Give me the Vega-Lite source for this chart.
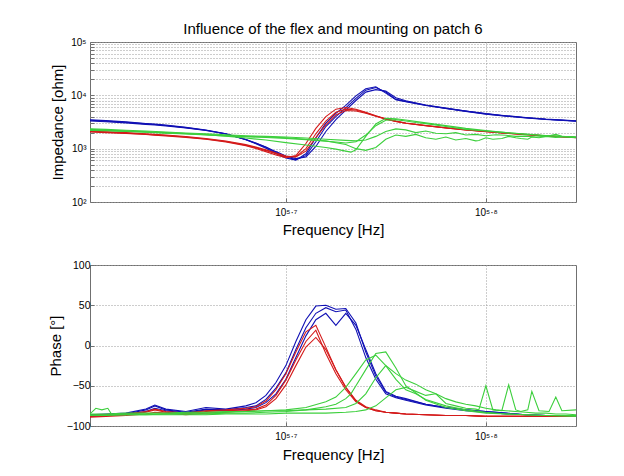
{
"$schema": "https://vega.github.io/schema/vega-lite/v6.json",
"background": "white",
"padding": {"left": 47, "top": 21, "right": 5, "bottom": 5},
"config": {
 "font": "Liberation Sans",
 "view": {"stroke": "#707070", "strokeWidth": 1},
 "axis": {"domain": false, "grid": true, "gridDash": [1, 2], "gridColor": "#9a9a9a", "gridWidth": 1, "tickColor": "#707070", "tickSize": -4, "labelFont": "Liberation Sans", "labelFontSize": 10.5, "labelColor": "#000", "titleFont": "Liberation Sans", "titleFontSize": 15, "titleFontWeight": "normal", "titleColor": "#000"}
},
"datasets": {"d": [
{"s":"a1","g":"a","f":400000,"z":3400,"p":-87},{"s":"a1","g":"a","f":407400,"z":3280,"p":-86},{"s":"a1","g":"a","f":416900,"z":3120,"p":-85},{"s":"a1","g":"a","f":426600,"z":2920,"p":-80},{"s":"a1","g":"a","f":431000,"z":2830,"p":-75},{"s":"a1","g":"a","f":436500,"z":2720,"p":-80},{"s":"a1","g":"a","f":446700,"z":2480,"p":-83},{"s":"a1","g":"a","f":457100,"z":2220,"p":-79},{"s":"a1","g":"a","f":467700,"z":1900,"p":-80},{"s":"a1","g":"a","f":478600,"z":1480,"p":-77},{"s":"a1","g":"a","f":484200,"z":1260,"p":-75},{"s":"a1","g":"a","f":489800,"z":1060,"p":-67},{"s":"a1","g":"a","f":495500,"z":850,"p":-53},{"s":"a1","g":"a","f":501200,"z":700,"p":-34},{"s":"a1","g":"a","f":507000,"z":625,"p":-5},{"s":"a1","g":"a","f":512900,"z":740,"p":22},{"s":"a1","g":"a","f":518800,"z":1350,"p":40},{"s":"a1","g":"a","f":524800,"z":2600,"p":47},{"s":"a1","g":"a","f":530900,"z":4000,"p":42},{"s":"a1","g":"a","f":537000,"z":5800,"p":44},{"s":"a1","g":"a","f":543300,"z":8800,"p":20},{"s":"a1","g":"a","f":549500,"z":12500,"p":-15},{"s":"a1","g":"a","f":555900,"z":14000,"p":-42},{"s":"a1","g":"a","f":562300,"z":11500,"p":-60},{"s":"a1","g":"a","f":568900,"z":8400,"p":-65},{"s":"a1","g":"a","f":575400,"z":7700,"p":-68},{"s":"a1","g":"a","f":588800,"z":6500,"p":-74},{"s":"a1","g":"a","f":602600,"z":5700,"p":-78},{"s":"a1","g":"a","f":616600,"z":5050,"p":-81},{"s":"a1","g":"a","f":631000,"z":4500,"p":-83},{"s":"a1","g":"a","f":645700,"z":4100,"p":-85},{"s":"a1","g":"a","f":660700,"z":3800,"p":-86},{"s":"a1","g":"a","f":676100,"z":3550,"p":-87},{"s":"a1","g":"a","f":700000,"z":3300,"p":-88},
{"s":"a2","g":"a","f":400000,"z":3300,"p":-88},{"s":"a2","g":"a","f":407400,"z":3200,"p":-87},{"s":"a2","g":"a","f":416900,"z":3050,"p":-86},{"s":"a2","g":"a","f":426600,"z":2860,"p":-82},{"s":"a2","g":"a","f":431000,"z":2780,"p":-78},{"s":"a2","g":"a","f":436500,"z":2670,"p":-81},{"s":"a2","g":"a","f":446700,"z":2440,"p":-84},{"s":"a2","g":"a","f":457100,"z":2190,"p":-80},{"s":"a2","g":"a","f":467700,"z":1880,"p":-81},{"s":"a2","g":"a","f":478600,"z":1480,"p":-79},{"s":"a2","g":"a","f":484200,"z":1270,"p":-77},{"s":"a2","g":"a","f":489800,"z":1080,"p":-71},{"s":"a2","g":"a","f":495500,"z":880,"p":-60},{"s":"a2","g":"a","f":501200,"z":730,"p":-42},{"s":"a2","g":"a","f":507000,"z":650,"p":-15},{"s":"a2","g":"a","f":512900,"z":700,"p":12},{"s":"a2","g":"a","f":518800,"z":1100,"p":32},{"s":"a2","g":"a","f":524800,"z":2100,"p":40},{"s":"a2","g":"a","f":530900,"z":3500,"p":25},{"s":"a2","g":"a","f":537000,"z":5300,"p":40},{"s":"a2","g":"a","f":543300,"z":8000,"p":25},{"s":"a2","g":"a","f":549500,"z":11500,"p":-5},{"s":"a2","g":"a","f":555900,"z":12800,"p":-35},{"s":"a2","g":"a","f":562300,"z":12000,"p":-57},{"s":"a2","g":"a","f":568900,"z":9000,"p":-63},{"s":"a2","g":"a","f":575400,"z":7900,"p":-66},{"s":"a2","g":"a","f":588800,"z":6600,"p":-73},{"s":"a2","g":"a","f":602600,"z":5750,"p":-77},{"s":"a2","g":"a","f":616600,"z":5100,"p":-80},{"s":"a2","g":"a","f":631000,"z":4550,"p":-82},{"s":"a2","g":"a","f":645700,"z":4150,"p":-84},{"s":"a2","g":"a","f":660700,"z":3850,"p":-86},{"s":"a2","g":"a","f":676100,"z":3580,"p":-87},{"s":"a2","g":"a","f":700000,"z":3320,"p":-88},
{"s":"a3","g":"a","f":400000,"z":3480,"p":-86},{"s":"a3","g":"a","f":407400,"z":3350,"p":-85},{"s":"a3","g":"a","f":416900,"z":3180,"p":-84},{"s":"a3","g":"a","f":426600,"z":2970,"p":-79},{"s":"a3","g":"a","f":431000,"z":2880,"p":-74},{"s":"a3","g":"a","f":436500,"z":2760,"p":-79},{"s":"a3","g":"a","f":446700,"z":2510,"p":-82},{"s":"a3","g":"a","f":457100,"z":2240,"p":-77},{"s":"a3","g":"a","f":467700,"z":1910,"p":-79},{"s":"a3","g":"a","f":478600,"z":1470,"p":-75},{"s":"a3","g":"a","f":484200,"z":1240,"p":-71},{"s":"a3","g":"a","f":489800,"z":1020,"p":-62},{"s":"a3","g":"a","f":495500,"z":810,"p":-46},{"s":"a3","g":"a","f":501200,"z":670,"p":-25},{"s":"a3","g":"a","f":507000,"z":610,"p":5},{"s":"a3","g":"a","f":512900,"z":800,"p":32},{"s":"a3","g":"a","f":518800,"z":1600,"p":49},{"s":"a3","g":"a","f":524800,"z":3000,"p":50},{"s":"a3","g":"a","f":530900,"z":4600,"p":45},{"s":"a3","g":"a","f":537000,"z":6500,"p":46},{"s":"a3","g":"a","f":543300,"z":9800,"p":28},{"s":"a3","g":"a","f":549500,"z":13300,"p":-8},{"s":"a3","g":"a","f":555900,"z":14500,"p":-38},{"s":"a3","g":"a","f":562300,"z":11000,"p":-58},{"s":"a3","g":"a","f":568900,"z":8300,"p":-64},{"s":"a3","g":"a","f":575400,"z":7600,"p":-67},{"s":"a3","g":"a","f":588800,"z":6450,"p":-73},{"s":"a3","g":"a","f":602600,"z":5650,"p":-77},{"s":"a3","g":"a","f":616600,"z":5000,"p":-80},{"s":"a3","g":"a","f":631000,"z":4450,"p":-82},{"s":"a3","g":"a","f":645700,"z":4080,"p":-84},{"s":"a3","g":"a","f":660700,"z":3780,"p":-86},{"s":"a3","g":"a","f":676100,"z":3530,"p":-87},{"s":"a3","g":"a","f":700000,"z":3280,"p":-88},
{"s":"b1","g":"b","f":400000,"z":2100,"p":-88},{"s":"b1","g":"b","f":407400,"z":2040,"p":-87},{"s":"b1","g":"b","f":416900,"z":1960,"p":-86},{"s":"b1","g":"b","f":426600,"z":1860,"p":-83},{"s":"b1","g":"b","f":431000,"z":1810,"p":-80},{"s":"b1","g":"b","f":436500,"z":1760,"p":-83},{"s":"b1","g":"b","f":446700,"z":1650,"p":-85},{"s":"b1","g":"b","f":457100,"z":1520,"p":-82},{"s":"b1","g":"b","f":467700,"z":1360,"p":-81},{"s":"b1","g":"b","f":478600,"z":1160,"p":-80},{"s":"b1","g":"b","f":484200,"z":1040,"p":-79},{"s":"b1","g":"b","f":489800,"z":920,"p":-74},{"s":"b1","g":"b","f":495500,"z":800,"p":-62},{"s":"b1","g":"b","f":501200,"z":710,"p":-43},{"s":"b1","g":"b","f":507000,"z":710,"p":-18},{"s":"b1","g":"b","f":512900,"z":1000,"p":5},{"s":"b1","g":"b","f":518800,"z":1900,"p":19},{"s":"b1","g":"b","f":524800,"z":3300,"p":-10},{"s":"b1","g":"b","f":530900,"z":4800,"p":-35},{"s":"b1","g":"b","f":537000,"z":5500,"p":-55},{"s":"b1","g":"b","f":543300,"z":5300,"p":-70},{"s":"b1","g":"b","f":549500,"z":4700,"p":-77},{"s":"b1","g":"b","f":555900,"z":4100,"p":-81},{"s":"b1","g":"b","f":562300,"z":3600,"p":-83},{"s":"b1","g":"b","f":568900,"z":3250,"p":-84},{"s":"b1","g":"b","f":575400,"z":3000,"p":-85},{"s":"b1","g":"b","f":588800,"z":2700,"p":-86},{"s":"b1","g":"b","f":602600,"z":2450,"p":-87},{"s":"b1","g":"b","f":616600,"z":2250,"p":-87},{"s":"b1","g":"b","f":631000,"z":2100,"p":-88},{"s":"b1","g":"b","f":645700,"z":1960,"p":-88},{"s":"b1","g":"b","f":660700,"z":1840,"p":-88},{"s":"b1","g":"b","f":676100,"z":1740,"p":-88},{"s":"b1","g":"b","f":700000,"z":1620,"p":-88},
{"s":"b2","g":"b","f":400000,"z":2060,"p":-87},{"s":"b2","g":"b","f":407400,"z":2000,"p":-86},{"s":"b2","g":"b","f":416900,"z":1930,"p":-85},{"s":"b2","g":"b","f":426600,"z":1840,"p":-82},{"s":"b2","g":"b","f":431000,"z":1790,"p":-79},{"s":"b2","g":"b","f":436500,"z":1740,"p":-82},{"s":"b2","g":"b","f":446700,"z":1630,"p":-84},{"s":"b2","g":"b","f":457100,"z":1500,"p":-81},{"s":"b2","g":"b","f":467700,"z":1340,"p":-80},{"s":"b2","g":"b","f":478600,"z":1140,"p":-78},{"s":"b2","g":"b","f":484200,"z":1010,"p":-76},{"s":"b2","g":"b","f":489800,"z":880,"p":-69},{"s":"b2","g":"b","f":495500,"z":760,"p":-55},{"s":"b2","g":"b","f":501200,"z":680,"p":-35},{"s":"b2","g":"b","f":507000,"z":740,"p":-8},{"s":"b2","g":"b","f":512900,"z":1250,"p":17},{"s":"b2","g":"b","f":518800,"z":2400,"p":25},{"s":"b2","g":"b","f":524800,"z":4000,"p":-2},{"s":"b2","g":"b","f":530900,"z":5500,"p":-30},{"s":"b2","g":"b","f":537000,"z":5900,"p":-52},{"s":"b2","g":"b","f":543300,"z":5500,"p":-69},{"s":"b2","g":"b","f":549500,"z":4800,"p":-77},{"s":"b2","g":"b","f":555900,"z":4150,"p":-81},{"s":"b2","g":"b","f":562300,"z":3650,"p":-83},{"s":"b2","g":"b","f":568900,"z":3280,"p":-84},{"s":"b2","g":"b","f":575400,"z":3020,"p":-85},{"s":"b2","g":"b","f":588800,"z":2710,"p":-86},{"s":"b2","g":"b","f":602600,"z":2460,"p":-87},{"s":"b2","g":"b","f":616600,"z":2260,"p":-87},{"s":"b2","g":"b","f":631000,"z":2100,"p":-88},{"s":"b2","g":"b","f":645700,"z":1960,"p":-88},{"s":"b2","g":"b","f":660700,"z":1840,"p":-88},{"s":"b2","g":"b","f":676100,"z":1740,"p":-88},{"s":"b2","g":"b","f":700000,"z":1620,"p":-88},
{"s":"b3","g":"b","f":400000,"z":2140,"p":-89},{"s":"b3","g":"b","f":407400,"z":2080,"p":-88},{"s":"b3","g":"b","f":416900,"z":2000,"p":-87},{"s":"b3","g":"b","f":426600,"z":1900,"p":-85},{"s":"b3","g":"b","f":431000,"z":1850,"p":-83},{"s":"b3","g":"b","f":436500,"z":1800,"p":-84},{"s":"b3","g":"b","f":446700,"z":1690,"p":-86},{"s":"b3","g":"b","f":457100,"z":1550,"p":-84},{"s":"b3","g":"b","f":467700,"z":1390,"p":-83},{"s":"b3","g":"b","f":478600,"z":1190,"p":-81},{"s":"b3","g":"b","f":484200,"z":1070,"p":-80},{"s":"b3","g":"b","f":489800,"z":950,"p":-76},{"s":"b3","g":"b","f":495500,"z":830,"p":-66},{"s":"b3","g":"b","f":501200,"z":730,"p":-49},{"s":"b3","g":"b","f":507000,"z":700,"p":-25},{"s":"b3","g":"b","f":512900,"z":900,"p":-2},{"s":"b3","g":"b","f":518800,"z":1600,"p":10},{"s":"b3","g":"b","f":524800,"z":2800,"p":-5},{"s":"b3","g":"b","f":530900,"z":4300,"p":-30},{"s":"b3","g":"b","f":537000,"z":5200,"p":-52},{"s":"b3","g":"b","f":543300,"z":5100,"p":-68},{"s":"b3","g":"b","f":549500,"z":4600,"p":-76},{"s":"b3","g":"b","f":555900,"z":4050,"p":-80},{"s":"b3","g":"b","f":562300,"z":3580,"p":-83},{"s":"b3","g":"b","f":568900,"z":3230,"p":-84},{"s":"b3","g":"b","f":575400,"z":2990,"p":-85},{"s":"b3","g":"b","f":588800,"z":2690,"p":-86},{"s":"b3","g":"b","f":602600,"z":2440,"p":-87},{"s":"b3","g":"b","f":616600,"z":2240,"p":-87},{"s":"b3","g":"b","f":631000,"z":2090,"p":-88},{"s":"b3","g":"b","f":645700,"z":1950,"p":-88},{"s":"b3","g":"b","f":660700,"z":1830,"p":-88},{"s":"b3","g":"b","f":676100,"z":1730,"p":-88},{"s":"b3","g":"b","f":700000,"z":1610,"p":-88},
{"s":"c1","g":"c","f":400000,"z":2300,"p":-87},{"s":"c1","g":"c","f":407400,"z":2220,"p":-87},{"s":"c1","g":"c","f":416900,"z":2130,"p":-86},{"s":"c1","g":"c","f":426600,"z":2050,"p":-86},{"s":"c1","g":"c","f":436500,"z":1980,"p":-85},{"s":"c1","g":"c","f":446700,"z":1900,"p":-85},{"s":"c1","g":"c","f":457100,"z":1820,"p":-85},{"s":"c1","g":"c","f":467700,"z":1720,"p":-84},{"s":"c1","g":"c","f":478600,"z":1580,"p":-84},{"s":"c1","g":"c","f":489800,"z":1450,"p":-83},{"s":"c1","g":"c","f":501200,"z":1300,"p":-82},{"s":"c1","g":"c","f":512900,"z":1170,"p":-80},{"s":"c1","g":"c","f":524800,"z":1050,"p":-76},{"s":"c1","g":"c","f":530900,"z":980,"p":-73},{"s":"c1","g":"c","f":537000,"z":900,"p":-66},{"s":"c1","g":"c","f":540200,"z":860,"p":-60},{"s":"c1","g":"c","f":543300,"z":950,"p":-50},{"s":"c1","g":"c","f":549500,"z":1700,"p":-30},{"s":"c1","g":"c","f":555900,"z":2900,"p":-10},{"s":"c1","g":"c","f":562300,"z":3700,"p":-8},{"s":"c1","g":"c","f":568900,"z":3650,"p":-28},{"s":"c1","g":"c","f":575400,"z":3450,"p":-50},{"s":"c1","g":"c","f":588800,"z":3050,"p":-68},{"s":"c1","g":"c","f":602600,"z":2700,"p":-77},{"s":"c1","g":"c","f":616600,"z":2400,"p":-81},{"s":"c1","g":"c","f":631000,"z":2180,"p":-84},{"s":"c1","g":"c","f":645700,"z":2000,"p":-85},{"s":"c1","g":"c","f":660700,"z":1870,"p":-86},{"s":"c1","g":"c","f":676100,"z":1760,"p":-87},{"s":"c1","g":"c","f":700000,"z":1650,"p":-87},
{"s":"c2","g":"c","f":400000,"z":2250,"p":-86},{"s":"c2","g":"c","f":407400,"z":2200,"p":-86},{"s":"c2","g":"c","f":416900,"z":2140,"p":-85},{"s":"c2","g":"c","f":426600,"z":2070,"p":-85},{"s":"c2","g":"c","f":436500,"z":2000,"p":-85},{"s":"c2","g":"c","f":446700,"z":1920,"p":-84},{"s":"c2","g":"c","f":457100,"z":1840,"p":-84},{"s":"c2","g":"c","f":467700,"z":1770,"p":-83},{"s":"c2","g":"c","f":478600,"z":1700,"p":-82},{"s":"c2","g":"c","f":489800,"z":1650,"p":-81},{"s":"c2","g":"c","f":501200,"z":1600,"p":-80},{"s":"c2","g":"c","f":512900,"z":1500,"p":-77},{"s":"c2","g":"c","f":524800,"z":1380,"p":-70},{"s":"c2","g":"c","f":530900,"z":1330,"p":-64},{"s":"c2","g":"c","f":537000,"z":1280,"p":-52},{"s":"c2","g":"c","f":543300,"z":1350,"p":-35},{"s":"c2","g":"c","f":549500,"z":1800,"p":-18},{"s":"c2","g":"c","f":555900,"z":2700,"p":-12},{"s":"c2","g":"c","f":562300,"z":3400,"p":-25},{"s":"c2","g":"c","f":568900,"z":3500,"p":-42},{"s":"c2","g":"c","f":575400,"z":3300,"p":-55},{"s":"c2","g":"c","f":582100,"z":3100,"p":-60},{"s":"c2","g":"c","f":588800,"z":2950,"p":-67},{"s":"c2","g":"c","f":602600,"z":2600,"p":-75},{"s":"c2","g":"c","f":616600,"z":2300,"p":-80},{"s":"c2","g":"c","f":631000,"z":2150,"p":-83},{"s":"c2","g":"c","f":645700,"z":2000,"p":-85},{"s":"c2","g":"c","f":660700,"z":1860,"p":-86},{"s":"c2","g":"c","f":676100,"z":1750,"p":-87},{"s":"c2","g":"c","f":700000,"z":1640,"p":-88},
{"s":"c3","g":"c","f":400000,"z":2350,"p":-85},{"s":"c3","g":"c","f":407400,"z":2300,"p":-85},{"s":"c3","g":"c","f":416900,"z":2220,"p":-84},{"s":"c3","g":"c","f":426600,"z":2140,"p":-84},{"s":"c3","g":"c","f":436500,"z":2060,"p":-84},{"s":"c3","g":"c","f":446700,"z":1970,"p":-83},{"s":"c3","g":"c","f":457100,"z":1900,"p":-83},{"s":"c3","g":"c","f":467700,"z":1820,"p":-82},{"s":"c3","g":"c","f":478600,"z":1750,"p":-82},{"s":"c3","g":"c","f":489800,"z":1700,"p":-81},{"s":"c3","g":"c","f":501200,"z":1650,"p":-81},{"s":"c3","g":"c","f":512900,"z":1580,"p":-80},{"s":"c3","g":"c","f":524800,"z":1500,"p":-79},{"s":"c3","g":"c","f":537000,"z":1430,"p":-77},{"s":"c3","g":"c","f":543300,"z":1400,"p":-72},{"s":"c3","g":"c","f":549500,"z":1450,"p":-60},{"s":"c3","g":"c","f":555900,"z":1700,"p":-40},{"s":"c3","g":"c","f":562300,"z":2100,"p":-25},{"s":"c3","g":"c","f":568900,"z":2350,"p":-35},{"s":"c3","g":"c","f":575400,"z":2250,"p":-43},{"s":"c3","g":"c","f":582100,"z":2000,"p":-48},{"s":"c3","g":"c","f":588800,"z":2150,"p":-55},{"s":"c3","g":"c","f":595700,"z":1950,"p":-60},{"s":"c3","g":"c","f":602600,"z":1900,"p":-66},{"s":"c3","g":"c","f":609500,"z":2000,"p":-70},{"s":"c3","g":"c","f":616600,"z":1800,"p":-73},{"s":"c3","g":"c","f":623700,"z":1850,"p":-75},{"s":"c3","g":"c","f":631000,"z":1750,"p":-78},{"s":"c3","g":"c","f":638300,"z":1820,"p":-80},{"s":"c3","g":"c","f":645700,"z":1780,"p":-81},{"s":"c3","g":"c","f":653100,"z":1700,"p":-82},{"s":"c3","g":"c","f":660700,"z":1720,"p":-83},{"s":"c3","g":"c","f":668300,"z":1650,"p":-84},{"s":"c3","g":"c","f":676100,"z":1700,"p":-84},{"s":"c3","g":"c","f":683900,"z":1620,"p":-85},{"s":"c3","g":"c","f":691800,"z":1680,"p":-85},{"s":"c3","g":"c","f":700000,"z":1600,"p":-86},
{"s":"c4","g":"c","f":400000,"z":2200,"p":-85},{"s":"c4","g":"c","f":402700,"z":2190,"p":-78},{"s":"c4","g":"c","f":405500,"z":2180,"p":-80},{"s":"c4","g":"c","f":408300,"z":2170,"p":-78},{"s":"c4","g":"c","f":410200,"z":2160,"p":-86},{"s":"c4","g":"c","f":416900,"z":2100,"p":-86},{"s":"c4","g":"c","f":426600,"z":2030,"p":-86},{"s":"c4","g":"c","f":436500,"z":1960,"p":-86},{"s":"c4","g":"c","f":446700,"z":1880,"p":-86},{"s":"c4","g":"c","f":457100,"z":1800,"p":-86},{"s":"c4","g":"c","f":467700,"z":1740,"p":-85},{"s":"c4","g":"c","f":478600,"z":1680,"p":-85},{"s":"c4","g":"c","f":489800,"z":1620,"p":-85},{"s":"c4","g":"c","f":501200,"z":1560,"p":-84},{"s":"c4","g":"c","f":512900,"z":1480,"p":-84},{"s":"c4","g":"c","f":524800,"z":1400,"p":-84},{"s":"c4","g":"c","f":537000,"z":1200,"p":-83},{"s":"c4","g":"c","f":543300,"z":1000,"p":-82},{"s":"c4","g":"c","f":549500,"z":930,"p":-80},{"s":"c4","g":"c","f":555900,"z":1050,"p":-75},{"s":"c4","g":"c","f":562300,"z":1500,"p":-65},{"s":"c4","g":"c","f":568900,"z":1800,"p":-55},{"s":"c4","g":"c","f":575400,"z":1700,"p":-52},{"s":"c4","g":"c","f":582100,"z":1850,"p":-57},{"s":"c4","g":"c","f":588800,"z":1600,"p":-62},{"s":"c4","g":"c","f":595700,"z":1500,"p":-60},{"s":"c4","g":"c","f":602600,"z":1650,"p":-72},{"s":"c4","g":"c","f":609500,"z":1450,"p":-75},{"s":"c4","g":"c","f":616600,"z":1550,"p":-78},{"s":"c4","g":"c","f":623700,"z":1400,"p":-79},{"s":"c4","g":"c","f":625900,"z":1420,"p":-80},{"s":"c4","g":"c","f":631000,"z":1600,"p":-50},{"s":"c4","g":"c","f":636100,"z":1500,"p":-80},{"s":"c4","g":"c","f":642700,"z":1550,"p":-81},{"s":"c4","g":"c","f":647800,"z":1700,"p":-49},{"s":"c4","g":"c","f":653100,"z":1600,"p":-80},{"s":"c4","g":"c","f":656900,"z":1550,"p":-82},{"s":"c4","g":"c","f":662200,"z":1500,"p":-80},{"s":"c4","g":"c","f":665300,"z":1650,"p":-57},{"s":"c4","g":"c","f":670800,"z":1600,"p":-81},{"s":"c4","g":"c","f":678600,"z":1750,"p":-82},{"s":"c4","g":"c","f":683900,"z":1850,"p":-64},{"s":"c4","g":"c","f":688700,"z":1700,"p":-81},{"s":"c4","g":"c","f":700000,"z":1650,"p":-80}
]},
"spacing": 21,
"vconcat": [
 {
  "title": {"text": "Influence of the flex and mounting on patch 6", "font": "Liberation Sans", "fontSize": 15, "fontWeight": "normal", "color": "#000", "frame": "group", "anchor": "middle", "offset": 0},
  "width": 486, "height": 160,
  "data": {"name": "d"},
  "mark": {"type": "line", "strokeWidth": 1.1, "clip": true},
  "encoding": {
   "x": {"field": "f", "type": "quantitative", "scale": {"type": "log", "domain": [400000, 700000], "nice": false},
         "axis": {"values": [501187.2, 630957.3], "labelExpr": "datum.value < 600000 ? '10⁵·⁷' : '10⁵·⁸'", "title": "Frequency [Hz]", "labelPadding": 9, "titlePadding": 5, "labelFontSize": 10}},
   "y": {"field": "z", "type": "quantitative", "scale": {"type": "log", "domain": [100, 100000], "nice": false},
         "axis": {"values": [100,200,300,400,500,600,700,800,900,1000,2000,3000,4000,5000,6000,7000,8000,9000,10000,20000,30000,40000,50000,60000,70000,80000,90000,100000],
                  "labelExpr": "datum.value == 100 ? '10²' : datum.value == 1000 ? '10³' : datum.value == 10000 ? '10⁴' : datum.value == 100000 ? '10⁵' : ''",
                  "title": "Impedance [ohm]", "labelPadding": 8, "titlePadding": 5, "labelFontSize": 10}},
   "color": {"field": "g", "type": "nominal", "scale": {"domain": ["a", "b", "c"], "range": ["#1010b4", "#d41a1a", "#3ccf3c"]}, "legend": null},
   "detail": {"field": "s", "type": "nominal"}
  }
 },
 {
  "width": 486, "height": 161,
  "data": {"name": "d"},
  "mark": {"type": "line", "strokeWidth": 1.1, "clip": true},
  "encoding": {
   "x": {"field": "f", "type": "quantitative", "scale": {"type": "log", "domain": [400000, 700000], "nice": false},
         "axis": {"values": [501187.2, 630957.3], "labelExpr": "datum.value < 600000 ? '10⁵·⁷' : '10⁵·⁸'", "title": "Frequency [Hz]", "labelPadding": 9, "titlePadding": 6, "labelFontSize": 10}},
   "y": {"field": "p", "type": "quantitative", "scale": {"domain": [-100, 100], "nice": false},
         "axis": {"values": [-100, -50, 0, 50, 100], "title": "Phase [°]", "labelPadding": 4, "titlePadding": 3}},
   "color": {"field": "g", "type": "nominal", "scale": {"domain": ["a", "b", "c"], "range": ["#1010b4", "#d41a1a", "#3ccf3c"]}, "legend": null},
   "detail": {"field": "s", "type": "nominal"}
  }
 }
]
}
